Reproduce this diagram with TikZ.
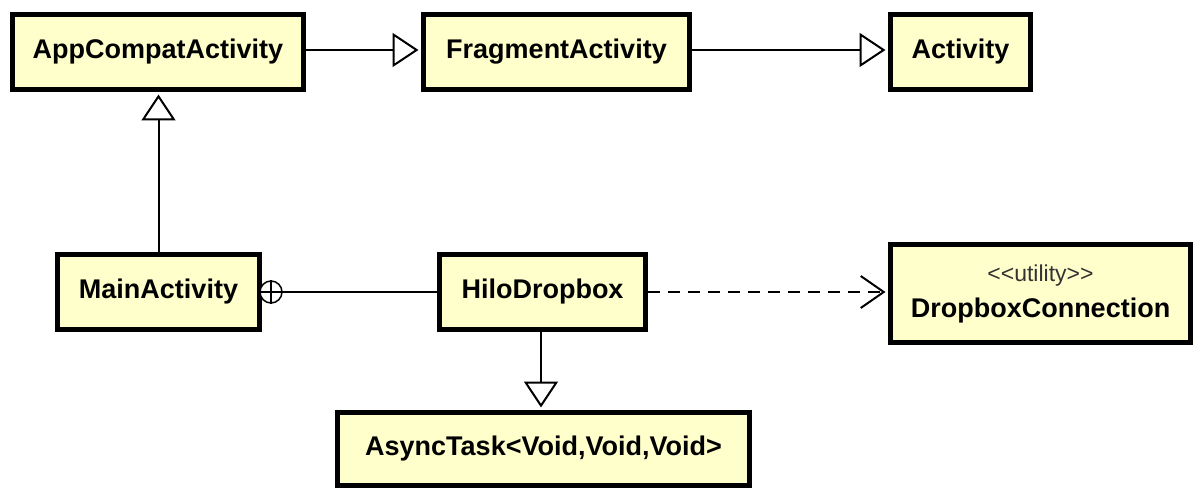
\documentclass[tikz,border=0pt]{standalone}
\usepackage{fontspec}
\setmainfont{Liberation Sans}
\usetikzlibrary{arrows.meta}
\definecolor{classfill}{RGB}{255,255,204}
\definecolor{stereo}{RGB}{51,51,51}
\tikzset{
  classbox/.style={draw=black, line width=5pt, fill=classfill, rectangle, inner sep=0pt,
    font=\fontsize{27}{32}\selectfont\bfseries, align=center},
  gen/.style={line width=2pt, -{Triangle[open, length=26pt, width=34pt]}, shorten >=2.5pt},
  dep/.style={line width=2pt, dash pattern=on 12pt off 8pt, -{Straight Barb[length=23pt, width=32pt]}, shorten >=2.5pt},
  assoc/.style={line width=2pt}
}
\begin{document}
\begin{tikzpicture}[x=1pt,y=-1pt]
\useasboundingbox (0,0) rectangle (1195,489);
\node[classbox, minimum width=291pt, minimum height=75pt] (app) at (158,52) {AppCompatActivity};
\node[classbox, minimum width=266pt, minimum height=75pt] (frag) at (556.5,52) {FragmentActivity};
\node[classbox, minimum width=140pt, minimum height=75pt] (act) at (960.5,52) {Activity};
\node[classbox, minimum width=202pt, minimum height=75pt] (main) at (158.5,292) {MainActivity};
\node[classbox, minimum width=206pt, minimum height=75pt] (hilo) at (542.5,292) {HiloDropbox};
\node[classbox, minimum width=300pt, minimum height=98pt] (dbc) at (1040.5,293.5)
  {{\fontsize{23}{26}\selectfont\mdseries\color{stereo}<{}<utility>{}>}\\[4pt]DropboxConnection};
\node[classbox, minimum width=412pt, minimum height=73pt] (async) at (543.5,449) {AsyncTask<Void,Void,Void>};
% nesting circle
\node[draw, circle, line width=1.5pt, minimum size=22pt, inner sep=0pt, fill=white] (nest) at (271,292) {};
\draw[line width=1.5pt] (nest.north) -- (nest.south) (nest.west) -- (nest.east);
% connectors
\draw[gen] (app.east |- 0,50) -- (frag.west |- 0,50);
\draw[gen] (frag.east |- 0,50) -- (act.west |- 0,50);
\draw[gen] (main.north) -- (main.north |- app.south);
\draw[gen] (hilo.south -| 541,0) -- (async.north -| 541,0);
\draw[assoc] (nest.east) -- (hilo.west);
\draw[dep] (hilo.east) -- (dbc.west |- hilo.east);
\end{tikzpicture}
\end{document}
